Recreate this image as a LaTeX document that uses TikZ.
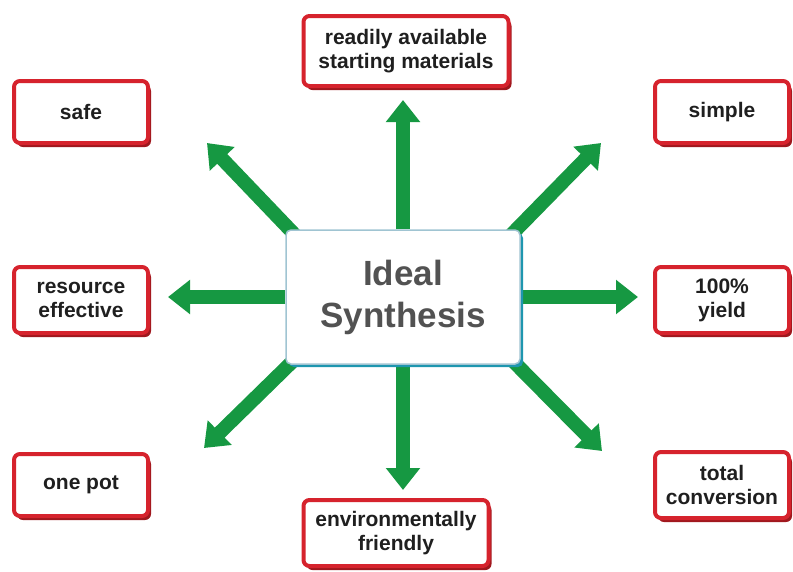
\documentclass[tikz,border=0pt]{standalone}
\usepackage{fontspec}
\setmainfont{Liberation Sans}
\usetikzlibrary{positioning,arrows.meta,shadows,backgrounds}

\definecolor{goalred}{RGB}{214,35,45}
\definecolor{goalshade}{RGB}{160,24,30}
\definecolor{arrowgreen}{RGB}{22,152,66}
\definecolor{coreline}{RGB}{160,196,210}
\definecolor{coreshade}{RGB}{30,150,175}

\begin{document}
\begin{tikzpicture}[
    x=1pt, y=-1pt,
    goal/.style={draw=goalred, line width=4pt, rounded corners=6pt, fill=white,
                 align=center, minimum width=134pt, minimum height=62pt,
                 inner sep=2pt, text=black!88,
                 font=\bfseries\fontsize{21}{24}\selectfont,
                 drop shadow={shadow xshift=3pt, shadow yshift=-4pt,
                              fill=goalshade, opacity=1}},
    core/.style={draw=coreline, line width=1.5pt, rounded corners=5pt, fill=white,
                 align=center, minimum width=234pt, minimum height=134pt,
                 text=black!68, font=\bfseries\fontsize{35}{42}\selectfont,
                 drop shadow={shadow xshift=3pt, shadow yshift=-3pt,
                              fill=coreshade, opacity=1}},
    go/.style={-{Triangle[length=22pt, width=33pt]}, line width=14pt, arrowgreen},
  ]
  \useasboundingbox (0,0) rectangle (793,571);

  % --- centre ---
  \node[core] (ideal) at (403,297) {Ideal\\Synthesis};

  % --- goals ---
  \node[goal, minimum width=205pt, minimum height=70pt] (avail) at (406,51)
    {readily available\\starting materials};
  \node[goal] (safe)   at (81,112)  {safe};
  \node[goal] (simple) at (722,112) {simple};
  \node[goal, minimum height=66pt] (resrc) at (81,300) {resource\\effective};
  \node[goal, minimum height=66pt] (yield) at (722,300) {100\%\\yield};
  \node[goal] (onepot) at (81,485)  {one pot};
  \node[goal, minimum height=66pt] (total) at (722,485) {total\\conversion};
  \node[goal, minimum width=185pt, minimum height=66pt] (green) at (396,533)
    {environmentally\\friendly};

  % --- arrow tips ---
  \coordinate (tipN)  at (403,100);
  \coordinate (tipS)  at (403,490);
  \coordinate (tipW)  at (168,297);
  \coordinate (tipE)  at (638,297);
  \coordinate (tipNW) at (207,143);
  \coordinate (tipNE) at (601,143);
  \coordinate (tipSW) at (204,448);
  \coordinate (tipSE) at (602,451);

  \begin{scope}[on background layer]
    \draw[go] (ideal.north) -- (tipN);
    \draw[go] (ideal.south) -- (tipS);
    \draw[go] (ideal.west)  -- (tipW);
    \draw[go] (ideal.east)  -- (tipE);
    \draw[go] ([shift={(10,6)}]ideal.north west) -- (tipNW);
    \draw[go] ([shift={(-10,6)}]ideal.north east) -- (tipNE);
    \draw[go] ([shift={(10,-6)}]ideal.south west) -- (tipSW);
    \draw[go] ([shift={(-10,-6)}]ideal.south east) -- (tipSE);
  \end{scope}
\end{tikzpicture}
\end{document}
